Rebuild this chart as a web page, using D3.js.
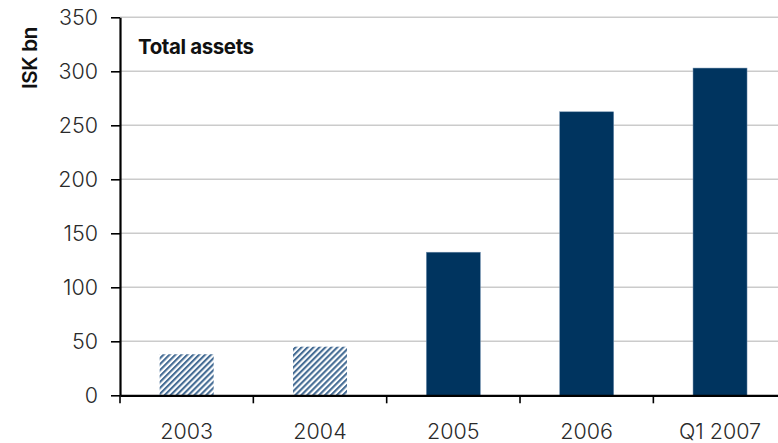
<!DOCTYPE html>
<html>
<head>
<meta charset="utf-8">
<script src="https://cdn.jsdelivr.net/npm/d3@7"></script>
<style>
  html, body { margin: 0; padding: 0; background: #fff; }
  svg { display: block; }
  text { font-family: Inter, "Liberation Sans", sans-serif; }
</style>
</head>
<body>
<svg id="chart" width="778" height="443"></svg>
<script>
// Total assets, ISK bn
const categories = ["2003", "2004", "2005", "2006", "Q1 2007"];
const assets = [38, 45, 132.5, 262.5, 303];
// Earlier years are drawn hatched
const hatched = [true, true, false, false, false];
const yTicks = [0, 50, 100, 150, 200, 250, 300, 350];

const svg = d3.select("#chart");
const W = 778, H = 443;
const plotLeft = 120, plotTop = 17.3, plotBottom = 395.3, plotRight = 786.7;
const navy = "#00345f";

const defs = svg.append("defs");
const pat = defs.append("pattern")
  .attr("id", "hatch")
  .attr("patternUnits", "userSpaceOnUse")
  .attr("width", 4.2).attr("height", 4.2)
  .attr("patternTransform", "rotate(45)");
pat.append("rect").attr("width", 4.2).attr("height", 4.2).attr("fill", "#ffffff");
pat.append("rect").attr("x", 0).attr("width", 2.1).attr("height", 4.2).attr("fill", "#466d95");

const x = d3.scaleBand()
  .domain(categories)
  .range([plotLeft, plotRight])
  .paddingInner(0.595)
  .paddingOuter(0.2975);

const y = d3.scaleLinear().domain([0, 350]).range([plotBottom, plotTop]);

// Gridlines
svg.append("g")
  .selectAll("line")
  .data(yTicks.filter(d => d > 0))
  .join("line")
  .attr("x1", plotLeft).attr("x2", W)
  .attr("y1", d => y(d)).attr("y2", d => y(d))
  .attr("stroke", "#cbcbcb")
  .attr("stroke-width", 1.6);

// Bars
svg.append("g")
  .selectAll("rect")
  .data(categories)
  .join("rect")
  .attr("x", d => x(d))
  .attr("width", x.bandwidth())
  .attr("y", (d, i) => y(assets[i]))
  .attr("height", (d, i) => y(0) - y(assets[i]))
  .attr("fill", (d, i) => hatched[i] ? "url(#hatch)" : navy)
  .attr("stroke", (d, i) => hatched[i] ? "none" : "#6f8eae")
  .attr("stroke-width", 0.5);

// Y axis
const yAxis = svg.append("g")
  .attr("transform", `translate(${plotLeft},0)`)
  .call(d3.axisLeft(y).tickValues(yTicks).tickSize(9).tickPadding(13).tickSizeOuter(0));
yAxis.select(".domain").attr("stroke", "#000").attr("stroke-width", 2.2);
yAxis.selectAll(".tick line").attr("stroke", "#000").attr("stroke-width", 1.6);
yAxis.selectAll(".tick text")
  .attr("fill", "#2a2a2a")
  .style("font-size", "21.5px")
  .style("font-weight", 300)
  .style("font-family", "Inter, sans-serif");

// X axis with boundary ticks between categories
const xAxis = svg.append("g")
  .attr("transform", `translate(0,${plotBottom})`)
  .call(d3.axisBottom(x).tickSize(0).tickPadding(28).tickSizeOuter(0));
xAxis.select(".domain").attr("stroke", "#000").attr("stroke-width", 2.2);
xAxis.selectAll(".tick text")
  .attr("fill", "#2a2a2a")
  .style("font-size", "21.5px")
  .style("font-weight", 300)
  .style("font-family", "Inter, sans-serif");

const step = x.step();
xAxis.append("g")
  .selectAll("line")
  .data(d3.range(categories.length))
  .join("line")
  .attr("x1", i => plotLeft + i * step).attr("x2", i => plotLeft + i * step)
  .attr("y1", 0).attr("y2", 8)
  .attr("stroke", "#000").attr("stroke-width", 1.6);

// Axis title
svg.append("text")
  .attr("transform", `translate(37,${58}) rotate(-90)`)
  .attr("text-anchor", "middle")
  .style("font-size", "20.5px")
  .style("font-weight", 600)
  .style("letter-spacing", "-0.3px")
  .attr("fill", "#111")
  .text("ISK bn");

// Chart title
svg.append("text")
  .attr("x", 138).attr("y", 54)
  .style("font-size", "20.5px")
  .style("font-weight", 700)
  .style("letter-spacing", "-0.4px")
  .attr("fill", "#111")
  .text("Total assets");
</script>
</body>
</html>
